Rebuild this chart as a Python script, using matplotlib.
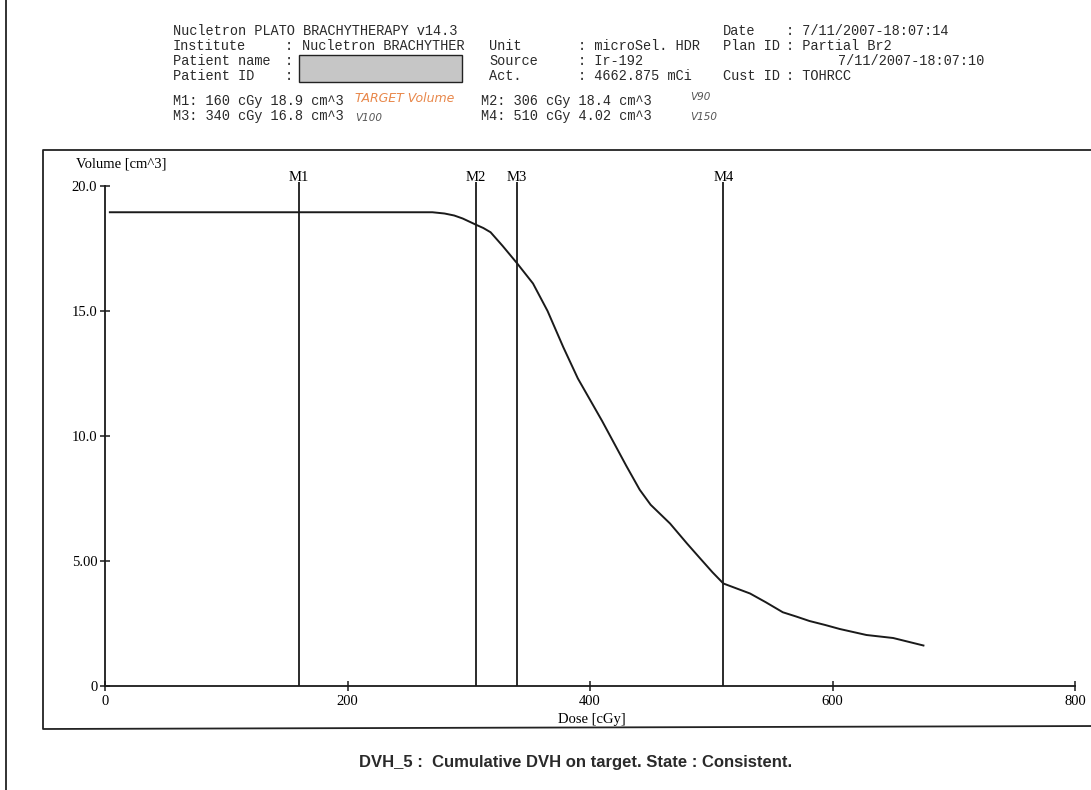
import matplotlib
matplotlib.use("Agg")
import matplotlib.pyplot as plt
from matplotlib.lines import Line2D
from matplotlib.patches import Rectangle

# DVH data
dose = [4, 270, 280, 288, 295, 306, 312, 318, 328, 340, 353, 365, 378, 390,
        400, 410, 420, 430, 441, 450, 466, 480, 490, 501, 510, 521, 532, 545,
        559, 570, 581, 594, 606, 628, 650, 675]
volume = [18.95, 18.95, 18.9, 18.82, 18.7, 18.45, 18.32, 18.15, 17.6, 16.9,
          16.1, 15.0, 13.55, 12.3, 11.45, 10.6, 9.7, 8.8, 7.85, 7.25, 6.5,
          5.7, 5.15, 4.55, 4.1, 3.9, 3.7, 3.35, 2.95, 2.78, 2.6, 2.44, 2.28,
          2.04, 1.92, 1.62]

marker_names = ["M1", "M2", "M3", "M4"]
marker_dose = [160, 306, 340, 510]

xticks = [0, 200, 400, 600, 800]
xtick_labels = ["0", "200", "400", "600", "800"]
yticks = [0, 5, 10, 15, 20]
ytick_labels = ["0", "5.00", "10.0", "15.0", "20.0"]

W, H = 1091, 790


def fx(px):
    return px / W


def fy(py):
    return 1 - py / H


fig = plt.figure(figsize=(W / 100, H / 100), dpi=100)
fig.patch.set_facecolor("white")

mono = "Liberation Mono"
serif = "Liberation Serif"
hcol = "#2a2a2a"
hs = 9.8

# header block
def htext(px, py, s, **kw):
    fig.text(fx(px), fy(py), s, family=mono, fontsize=hs, color=hcol,
             va="center", ha="left", **kw)

htext(173, 31, "Nucletron PLATO BRACHYTHERAPY v14.3")
for py, lab in zip([46, 61, 76], ["Institute", "Patient name", "Patient ID"]):
    htext(173, py, lab)
    htext(285, py, ":")
htext(302, 46, "Nucletron BRACHYTHER")
fig.add_artist(Rectangle((fx(299), fy(82)), fx(462) - fx(299), fy(55) - fy(82),
                         transform=fig.transFigure, facecolor="#c6c6c6",
                         edgecolor="#222222", lw=1.0))

for py, lab, val in zip([46, 61, 76], ["Unit", "Source", "Act."],
                        ["microSel. HDR", "Ir-192", "4662.875 mCi"]):
    htext(489, py, lab)
    htext(578, py, ": " + val)

htext(723, 31, "Date")
htext(786, 31, ": 7/11/2007-18:07:14")
htext(723, 46, "Plan ID")
htext(786, 46, ": Partial Br2")
htext(838, 61, "7/11/2007-18:07:10")
htext(723, 76, "Cust ID")
htext(786, 76, ": TOHRCC")

htext(173, 101, "M1: 160 cGy 18.9 cm^3")
htext(173, 116, "M3: 340 cGy 16.8 cm^3")
htext(481, 101, "M2: 306 cGy 18.4 cm^3")
htext(481, 116, "M4: 510 cGy 4.02 cm^3")

# handwritten notes
fig.text(fx(355), fy(98), "TARGET Volume", color="#e8874a", fontsize=9,
         style="italic", family="DejaVu Sans", va="center")
fig.text(fx(355), fy(118), "V100", color="#555555", fontsize=7.5,
         style="italic", family="DejaVu Sans", va="center")
fig.text(fx(690), fy(97), "V90", color="#555555", fontsize=7.5,
         style="italic", family="DejaVu Sans", va="center")
fig.text(fx(690), fy(117), "V150", color="#555555", fontsize=7.5,
         style="italic", family="DejaVu Sans", va="center")

# frames
fig.add_artist(Line2D([fx(6), fx(6)], [0, 1], transform=fig.transFigure,
                      color="#222222", lw=1.3))
box_x = [fx(1100), fx(43), fx(43), fx(1100)]
box_y = [fy(150), fy(150), fy(729), fy(726)]
fig.add_artist(Line2D(box_x, box_y, transform=fig.transFigure,
                      color="#222222", lw=1.3))

# plot area
ax = fig.add_axes([fx(105), fy(686), fx(1075) - fx(105), fy(186) - fy(686)])
ax.set_facecolor("none")
ax.plot(dose, volume, color="#1a1a1a", lw=1.4)
ax.vlines(marker_dose, 0, 20.15, color="#1a1a1a", lw=1.3, clip_on=False)
for name, d in zip(marker_names, marker_dose):
    ax.text(d, 20.33, name, family=serif, fontsize=10.5, ha="center",
            va="center", clip_on=False)

ax.set_xlim(0, 800)
ax.set_ylim(0, 20)
ax.set_xticks(xticks)
ax.set_xticklabels(xtick_labels, family=serif, fontsize=10.5)
ax.set_yticks(yticks)
ax.set_yticklabels(ytick_labels, family=serif, fontsize=10.5)
ax.tick_params(direction="inout", length=7, width=1.1, color="#1a1a1a")
ax.tick_params(axis="x", pad=3)
ax.tick_params(axis="y", pad=2)
for s in ["top", "right"]:
    ax.spines[s].set_visible(False)
for s in ["left", "bottom"]:
    ax.spines[s].set_linewidth(1.3)
    ax.spines[s].set_color("#1a1a1a")

fig.text(fx(121), fy(164), "Volume [cm^3]", family=serif, fontsize=10.5,
         ha="center", va="center")
fig.text(fx(592), fy(720), "Dose [cGy]", family=serif, fontsize=10.5,
         ha="center", va="center")

fig.text(fx(576), fy(762), "DVH_5 :  Cumulative DVH on target. State : Consistent.",
         family="Liberation Sans", fontweight="bold", fontsize=12,
         color="#2a2a2a", ha="center", va="center")

fig.savefig("out.png", dpi=100)
